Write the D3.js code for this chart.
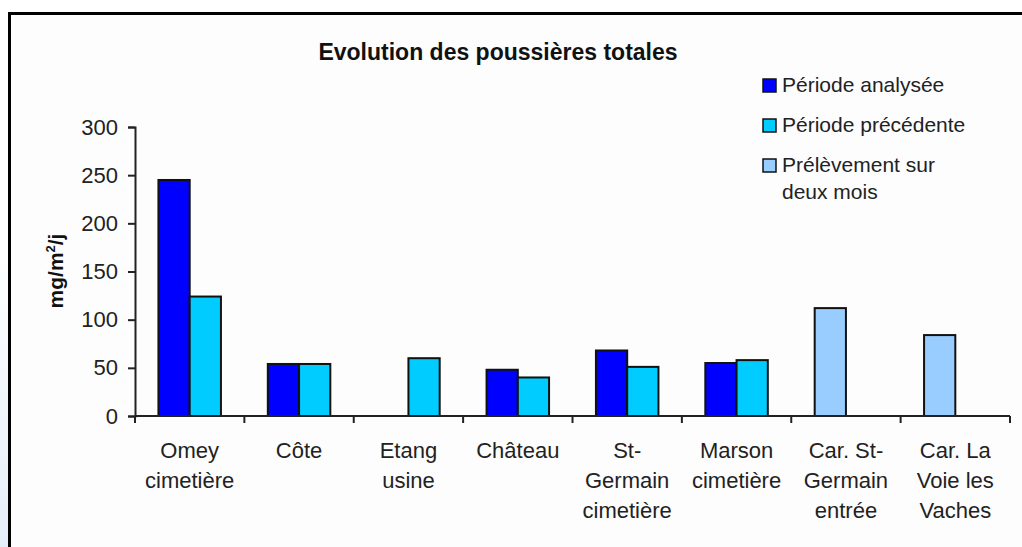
<!DOCTYPE html>
<html>
<head>
<meta charset="utf-8">
<script src="https://cdn.jsdelivr.net/npm/d3@7"></script>
<style>
  body { margin: 0; background: #fff; }
  svg { display: block; }
  text { font-family: "Liberation Sans", Arial, sans-serif; }
</style>
</head>
<body>
<div id="chart"></div>
<script>
// categories and their wrapped tick labels
const categories = ['Omey cimetière', 'Côte', 'Etang usine', 'Château',
  'St-Germain cimetière', 'Marson cimetière', 'Car. St-Germain entrée', 'Car. La Voie les Vaches'];
const tickLabels = [
  ['Omey', 'cimetière'], ['Côte'], ['Etang', 'usine'], ['Château'],
  ['St-', 'Germain', 'cimetière'], ['Marson', 'cimetière'],
  ['Car. St-', 'Germain', 'entrée'], ['Car. La', 'Voie les', 'Vaches']
];

// series values (mg/m²/j)
const analysee = [245, 54, null, 48, 68, 55, null, null];
const precedente = [124, 54, 60, 40, 51, 58, null, null];
const deuxMois = [null, null, null, null, null, null, 112, 84];

const yTicks = [0, 50, 100, 150, 200, 250, 300];
const seriesNames = ['Période analysée', 'Période précédente', 'Prélèvement sur deux mois'];

const width = 1022;
const height = 547;

const colors = { a: '#0000ff', p: '#00ccff', d: '#99ccff' };

const svg = d3.select('#chart').append('svg')
  .attr('width', width)
  .attr('height', height);

// faint bluish glow at the far left
const defs = svg.append('defs');
const grad = defs.append('linearGradient').attr('id', 'glow')
  .attr('x1', 0).attr('y1', 0).attr('x2', 0).attr('y2', 1);
grad.append('stop').attr('offset', '0%').attr('stop-color', '#ffffff');
grad.append('stop').attr('offset', '100%').attr('stop-color', '#e4eef9');
svg.append('rect').attr('x', 0).attr('y', 250).attr('width', 8).attr('height', 297)
  .attr('fill', 'url(#glow)');

// chart frame (runs off the right and bottom edges)
svg.append('rect')
  .attr('x', 9.5).attr('y', 13.5)
  .attr('width', 1030).attr('height', 560)
  .attr('fill', '#fdfdfd')
  .attr('stroke', '#000')
  .attr('stroke-width', 3);

const x = d3.scaleBand()
  .domain(categories)
  .range([135, 1010])
  .padding(0);

const sub = d3.scaleBand()
  .domain(['a', 'p'])
  .range([0, x.bandwidth()])
  .paddingInner(0)
  .paddingOuter(0.75);

const y = d3.scaleLinear()
  .domain([0, 300])
  .range([416, 127]);

// title
svg.append('text')
  .attr('x', 498)
  .attr('y', 60)
  .attr('text-anchor', 'middle')
  .style('font-size', '23px')
  .style('font-weight', 'bold')
  .attr('fill', '#111')
  .text('Evolution des poussières totales');

// y axis
const yAxis = svg.append('g')
  .attr('transform', 'translate(135,0)')
  .call(d3.axisLeft(y).tickValues(yTicks).tickSize(7).tickPadding(10));
yAxis.select('.domain').attr('stroke', '#222').attr('stroke-width', 2);
yAxis.selectAll('.tick line').attr('stroke', '#222').attr('stroke-width', 2);
yAxis.selectAll('.tick text')
  .style('font-size', '22px')
  .style('font-family', '"Liberation Sans", Arial, sans-serif')
  .attr('fill', '#222');

// y axis title
const yt = svg.append('text')
  .attr('transform', 'translate(63,271) rotate(-90)')
  .attr('text-anchor', 'middle')
  .style('font-size', '21px')
  .style('font-weight', 'bold')
  .attr('fill', '#111');
yt.append('tspan').text('mg/m');
yt.append('tspan').attr('dy', -8).style('font-size', '13px').text('2');
yt.append('tspan').attr('dy', 8).text('/j');

// bars
const rows = categories.map((c, i) => ({ c, a: analysee[i], p: precedente[i], d: deuxMois[i] }));

const bars = [];
rows.forEach(r => {
  if (r.a != null) bars.push({ c: r.c, slot: 'a', v: r.a, fill: colors.a });
  if (r.p != null) bars.push({ c: r.c, slot: 'p', v: r.p, fill: colors.p });
  if (r.d != null) bars.push({ c: r.c, slot: 'a', v: r.d, fill: colors.d });
});

svg.selectAll('.bar')
  .data(bars)
  .enter().append('rect')
  .attr('class', 'bar')
  .attr('x', d => x(d.c) + sub(d.slot))
  .attr('y', d => y(d.v))
  .attr('width', sub.bandwidth())
  .attr('height', d => y(0) - y(d.v))
  .attr('fill', d => d.fill)
  .attr('stroke', '#111')
  .attr('stroke-width', 2);

// x axis line and ticks at category boundaries
const bounds = categories.map(c => x(c)).concat([x.range()[1]]);
svg.append('line')
  .attr('x1', x.range()[0]).attr('x2', x.range()[1])
  .attr('y1', y(0)).attr('y2', y(0))
  .attr('stroke', '#222').attr('stroke-width', 2);
svg.selectAll('.xtick')
  .data(bounds)
  .enter().append('line')
  .attr('class', 'xtick')
  .attr('x1', d => d).attr('x2', d => d)
  .attr('y1', y(0)).attr('y2', y(0) + 7)
  .attr('stroke', '#222').attr('stroke-width', 2);

// x tick labels
const xl = svg.selectAll('.xlabel')
  .data(categories)
  .enter().append('text')
  .attr('class', 'xlabel')
  .attr('x', d => x(d) + x.bandwidth() / 2)
  .attr('y', 458)
  .attr('text-anchor', 'middle')
  .style('font-size', '22px')
  .attr('fill', '#222');
xl.each(function(d, i) {
  const t = d3.select(this);
  tickLabels[i].forEach((line, j) => {
    t.append('tspan')
      .attr('x', x(d) + x.bandwidth() / 2)
      .attr('dy', j === 0 ? 0 : 30)
      .text(line);
  });
});

// legend
const legendRows = [
  { name: seriesNames[0], fill: colors.a, lines: ['Période analysée'], y: 92 },
  { name: seriesNames[1], fill: colors.p, lines: ['Période précédente'], y: 132 },
  { name: seriesNames[2], fill: colors.d, lines: ['Prélèvement sur', 'deux mois'], y: 172 }
];
const leg = svg.append('g');
legendRows.forEach(r => {
  leg.append('rect')
    .attr('x', 763).attr('y', r.y - 13)
    .attr('width', 13).attr('height', 13)
    .attr('fill', r.fill)
    .attr('stroke', '#111').attr('stroke-width', 1.5);
  const t = leg.append('text')
    .attr('x', 782).attr('y', r.y)
    .style('font-size', '21px')
    .attr('fill', '#222');
  r.lines.forEach((line, j) => {
    t.append('tspan').attr('x', 782).attr('dy', j === 0 ? 0 : 27).text(line);
  });
});
</script>
</body>
</html>
